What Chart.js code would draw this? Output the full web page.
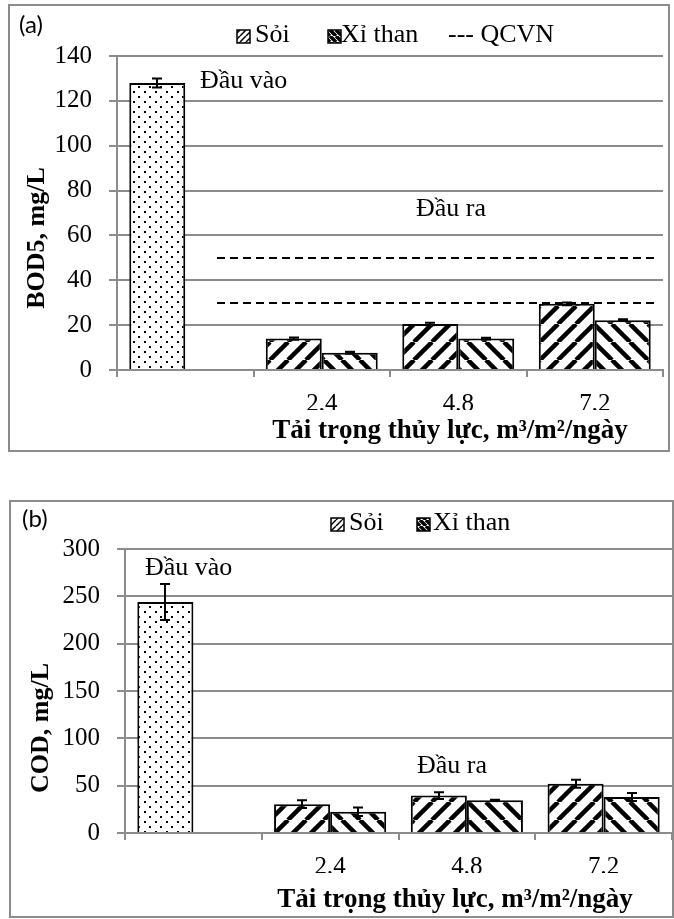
<!DOCTYPE html>
<html>
<head>
<meta charset="utf-8">
<script src="https://cdn.jsdelivr.net/npm/chart.js@4.4.1/dist/chart.umd.min.js"></script>
<style>
  body { margin: 0; background: #fff; }
  #wrap { position: relative; width: 674px; height: 919px; }
  canvas { position: absolute; left: 0; }
  .box { position: absolute; border: 2px solid #8c8c8c; box-sizing: border-box; pointer-events: none; }
</style>
</head>
<body>
<div id="wrap">
  <div class="box" style="left:8px;top:4px;width:662px;height:448px"></div>
  <div class="box" style="left:9px;top:500px;width:665px;height:418px"></div>
  <canvas id="chart-bod" width="674" height="460" style="top:0"></canvas>
  <canvas id="chart-cod" width="674" height="459" style="top:460px"></canvas>
</div>
<script>
// categories: first slot is the inflow ("Đầu vào"), then hydraulic loads
const categories = ['', '2,4', '4,8', '7,2'];

// (a) BOD5, mg/L
const bodSoi = [128, 14, 20.5, 29.5];
const bodSoiErr = [2, 0.5, 0.6, 0.6];
const bodXiThan = [null, 7.7, 14, 22.2];
const bodXiThanErr = [null, 0.4, 0.4, 0.4];
const qcvnLimits = [30, 50];
const bodTicks = { max: 140, step: 20 };

// (b) COD, mg/L
const codSoi = [244, 30.5, 39.5, 52];
const codSoiErr = [19, 4, 3.5, 4.2];
const codXiThan = [null, 22.5, 34.5, 38];
const codXiThanErr = [null, 4.5, 0.5, 4.2];
const codTicks = { max: 300, step: 50 };

const TIMES = "'Liberation Serif', serif";
const GRID = '#8c8c8c';

function dotPattern() {
    const c = document.createElement('canvas');
    c.width = 11; c.height = 10;
    const g = c.getContext('2d');
    g.fillStyle = '#fff';
    g.fillRect(0, 0, 11, 10);
    g.fillStyle = '#000';
    g.fillRect(1, 1, 2, 2);
    g.fillRect(6, 6, 2, 2);
    return g.createPattern(c, 'repeat');
}

function stripePattern(dir, s, w) {
    const c = document.createElement('canvas');
    c.width = s; c.height = s;
    const g = c.getContext('2d');
    g.fillStyle = '#fff';
    g.fillRect(0, 0, s, s);
    g.strokeStyle = '#000';
    g.lineWidth = w;
    for (const k of [-s, 0, s]) {
        g.beginPath();
        if (dir > 0) { g.moveTo(k, s); g.lineTo(k + s, 0); }
        else { g.moveTo(k, 0); g.lineTo(k + s, s); }
        g.stroke();
    }
    return g.createPattern(c, 'repeat');
}

const overlay = {
    id: 'overlay',
    beforeDatasetsDraw(chart, args, o) {
        if (!o.limits) return;
        const ctx = chart.ctx, y = chart.scales.y;
        ctx.save();
        ctx.setLineDash([8, 5]);
        ctx.lineWidth = 2;
        ctx.strokeStyle = '#000';
        o.limits.forEach(v => {
            const py = Math.round(y.getPixelForValue(v));
            ctx.beginPath();
            ctx.moveTo(o.limitX[0], py);
            ctx.lineTo(o.limitX[1], py);
            ctx.stroke();
        });
        ctx.restore();
    },
    afterDatasetsDraw(chart) {
        const ctx = chart.ctx, y = chart.scales.y;
        ctx.save();
        ctx.strokeStyle = '#000';
        ctx.lineWidth = 2;
        chart.data.datasets.forEach((ds, di) => {
            const meta = chart.getDatasetMeta(di);
            ds.errors.forEach((e, i) => {
                if (e == null || ds.data[i] == null) return;
                const x = Math.round(meta.data[i].x);
                const t = y.getPixelForValue(ds.data[i] + e);
                const b = y.getPixelForValue(ds.data[i] - e);
                ctx.beginPath();
                ctx.moveTo(x, t); ctx.lineTo(x, b);
                ctx.moveTo(x - 5, t); ctx.lineTo(x + 5, t);
                ctx.moveTo(x - 5, b); ctx.lineTo(x + 5, b);
                ctx.stroke();
            });
        });
        ctx.restore();
    },
    afterDraw(chart, args, o) {
        const ctx = chart.ctx;
        ctx.save();
        ctx.fillStyle = '#000';
        ctx.textBaseline = 'alphabetic';
        ctx.textAlign = 'left';

        // panel tag
        ctx.font = '24px Lato, sans-serif';
        ctx.fillText(o.tag.text, o.tag.x, o.tag.y);

        // legend
        ctx.font = '26px ' + TIMES;
        o.legend.forEach(it => {
            if (it.fill) {
                ctx.fillStyle = it.fill;
                ctx.fillRect(it.box, it.by, 13, 13);
                ctx.strokeStyle = '#000';
                ctx.lineWidth = 1.5;
                ctx.strokeRect(it.box, it.by, 13, 13);
            }
            ctx.fillStyle = '#000';
            ctx.fillText(it.text, it.tx, it.ty);
        });

        // annotations
        o.notes.forEach(n => ctx.fillText(n.text, n.x, n.y));

        // axis titles
        ctx.font = 'bold 27px ' + TIMES;
        ctx.textAlign = 'center';
        ctx.fillText(o.xTitle.text, o.xTitle.x, o.xTitle.y);
        ctx.font = 'bold 26px ' + TIMES;
        ctx.save();
        ctx.translate(o.yTitle.x, o.yTitle.y);
        ctx.rotate(-Math.PI / 2);
        ctx.textBaseline = 'middle';
        ctx.fillText(o.yTitle.text, 0, 0);
        ctx.restore();
        ctx.restore();
    }
};

function buildChart(el, cfg) {
    const tickFont = { family: TIMES, size: 25 };
    return new Chart(el, {
        type: 'bar',
        data: {
            labels: categories,
            datasets: [{
                label: 'Sỏi',
                data: cfg.soi,
                errors: cfg.soiErr,
                backgroundColor: categories.map((c, i) => i === 0 ? cfg.dots : cfg.up),
                borderColor: '#000',
                borderWidth: 2,
                categoryPercentage: 0.82,
                barPercentage: 1
            }, {
                label: 'Xỉ than',
                data: cfg.xi,
                errors: cfg.xiErr,
                backgroundColor: cfg.down,
                borderColor: '#000',
                borderWidth: 2,
                categoryPercentage: 0.82,
                barPercentage: 1
            }]
        },
        options: {
            responsive: false,
            animation: false,
            layout: { padding: cfg.padding },
            plugins: {
                legend: { display: false },
                tooltip: { enabled: false },
                overlay: cfg.overlay
            },
            scales: {
                x: {
                    grid: { offset: true, drawOnChartArea: false, color: GRID, lineWidth: 2, tickLength: 7 },
                    border: { color: GRID, width: 2 },
                    ticks: { font: tickFont, color: '#000', padding: 12 },
                    afterFit: a => { a.height = 40; }
                },
                y: {
                    min: 0,
                    max: cfg.ticks.max,
                    ticks: { stepSize: cfg.ticks.step, font: tickFont, color: '#000', padding: 17 },
                    grid: { color: GRID, lineWidth: 2, tickLength: 8 },
                    border: { color: GRID, width: 2 },
                    afterFit: a => { a.width = cfg.yWidth; }
                }
            }
        },
        plugins: [overlay]
    });
}

function drawAll() {
    const dots = dotPattern();
    const up = stripePattern(1, 18, 4.5);
    const down = stripePattern(-1, 18, 4.5);
    const upSmall = stripePattern(1, 6, 1.5);
    const downSmall = stripePattern(-1, 6, 3.5);

    buildChart(document.getElementById('chart-bod'), {
        soi: bodSoi, soiErr: bodSoiErr, xi: bodXiThan, xiErr: bodXiThanErr,
        ticks: bodTicks, dots, up, down,
        yWidth: 117,
        padding: { top: 56, right: 11, bottom: 50, left: 0 },
        overlay: {
            limits: qcvnLimits,
            limitX: [217, 657],
            tag: { text: '(a)', x: 19, y: 33 },
            legend: [
                { fill: upSmall, box: 237, by: 30, text: 'Sỏi', tx: 255, ty: 42 },
                { fill: downSmall, box: 328, by: 30, text: 'Xỉ than', tx: 341, ty: 42 },
                { text: '--- QCVN', tx: 448, ty: 42 }
            ],
            notes: [
                { text: 'Đầu vào', x: 200, y: 88 },
                { text: 'Đầu ra', x: 416, y: 216 }
            ],
            xTitle: { text: 'Tải trọng thủy lực, m³/m²/ngày', x: 450, y: 438 },
            yTitle: { text: 'BOD5, mg/L', x: 37, y: 238 }
        }
    });

    buildChart(document.getElementById('chart-cod'), {
        soi: codSoi, soiErr: codSoiErr, xi: codXiThan, xiErr: codXiThanErr,
        ticks: codTicks, dots, up, down,
        yWidth: 125,
        padding: { top: 89, right: 2, bottom: 46, left: 0 },
        overlay: {
            tag: { text: '(b)', x: 22, y: 67 },
            legend: [
                { fill: upSmall, box: 331, by: 58, text: 'Sỏi', tx: 349, ty: 70 },
                { fill: downSmall, box: 417, by: 58, text: 'Xỉ than', tx: 433, ty: 70 }
            ],
            notes: [
                { text: 'Đầu vào', x: 145, y: 115 },
                { text: 'Đầu ra', x: 417, y: 313 }
            ],
            xTitle: { text: 'Tải trọng thủy lực, m³/m²/ngày', x: 455, y: 447 },
            yTitle: { text: 'COD, mg/L', x: 41, y: 268 }
        }
    });
}

Promise.all([
    document.fonts.load("25px 'Liberation Serif'"),
    document.fonts.load("bold 26px 'Liberation Serif'"),
    document.fonts.load('24px Lato')
]).then(drawAll, drawAll);
</script>
</body>
</html>
